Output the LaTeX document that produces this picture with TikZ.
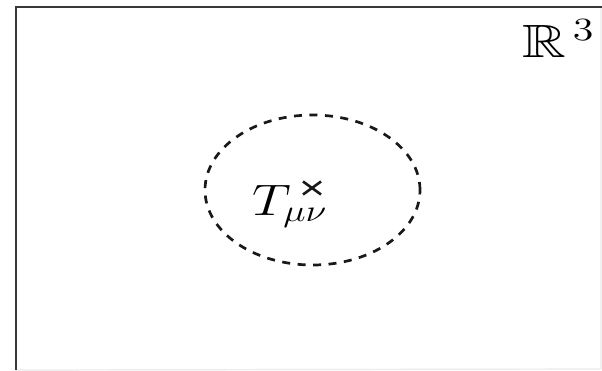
\documentclass[tikz,border=0pt]{standalone}
\usepackage{amssymb}
\usepackage{graphicx}
\usetikzlibrary{shapes.geometric,calc}
\begin{document}
\begin{tikzpicture}[x=1pt,y=-1pt,
  frame/.style={line width=2.6pt,draw=black!78},
  faint/.style={line width=1.2pt,draw=black!8},
  region/.style={draw=black!90,line width=2.7pt,dash pattern=on 8pt off 7.5pt},
  cross/.style={line width=2.6pt,draw=black!90},
  bigtext/.style={inner sep=0pt,font=\fontsize{17.28}{20}\selectfont}]
\useasboundingbox (0,0) rectangle (602,370);
\fill[white] (0,0) rectangle (602,370);
% frame
\coordinate (tl) at (16,7);
\coordinate (tr) at (602,7);
\coordinate (bl) at (16,370);
\coordinate (br) at (601,369);
\coordinate (trr) at (601,7);
\draw[faint] (bl) -- (br) -- (trr);
\draw[frame] (bl) -- (tl) -- (tr);
% region
\node[region,ellipse,minimum width=215pt,minimum height=150pt,inner sep=0pt] (reg) at (312.5,190) {};
% source point
\coordinate (src) at (312,188);
\draw[cross] ($(src)+(-9,-6.5)$) -- ($(src)+(9,6.5)$);
\draw[cross] ($(src)+(-9,6.5)$) -- ($(src)+(9,-6.5)$);
\node[bigtext,anchor=base west] (T) at (252,215) {\scalebox{3.15}[2.55]{$T_{\mu\nu}$}};
% space label
\node[bigtext,anchor=base west] (R) at (522,57) {\scalebox{3.5}[2.7]{$\mathbb{R}^{\,3}$}};
\end{tikzpicture}
\end{document}
